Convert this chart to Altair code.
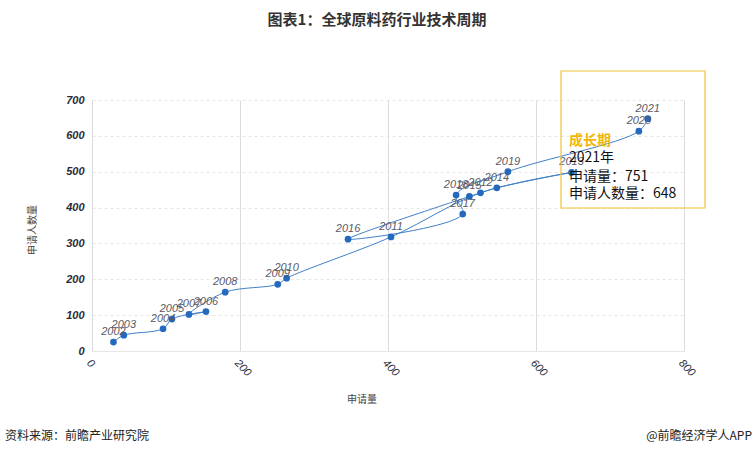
import altair as alt
import pandas as pd

years = [2002, 2003, 2004, 2005, 2006, 2007, 2008, 2009, 2010, 2011,
         2012, 2013, 2014, 2015, 2016, 2017, 2018, 2019, 2020, 2021]
applications = [29, 43, 96, 108, 154, 131, 180, 251, 263, 404,
                525, 648, 547, 510, 346, 501, 492, 562, 739, 751]
applicants = [25, 44, 62, 89, 110, 102, 164, 186, 203, 318,
              441, 498, 455, 431, 312, 382, 435, 500, 613, 648]

x_ticks = [0, 200, 400, 600, 800]
y_ticks = [0, 100, 200, 300, 400, 500, 600, 700]

title_text = "图表1：全球原料药行业技术周期"
x_title = "申请量"
y_title = "申请人数量"
source_text = "资料来源：前瞻产业研究院"
brand_text = "@前瞻经济学人APP"
tip_head = "成长期"
tip_lines = ["2021年", "申请量：751", "申请人数量：648"]

df = pd.DataFrame({"year": years, "apps": applications, "people": applicants})
df["label"] = df["year"].astype(str)

W, H = 592, 251
CJK = "Noto Sans CJK SC"
LAT = "Liberation Sans"

x_enc = alt.X("apps:Q", scale=alt.Scale(domain=[0, 800], nice=False),
              axis=alt.Axis(values=x_ticks, title=None, grid=True, gridColor="#dcdcdc",
                            labelAngle=45, labelFontStyle="italic", labelColor="#2b2b3a",
                            labelFont=LAT, labelFontSize=11, ticks=False, domain=True,
                            domainColor="#e6e6e6", labelPadding=6, labelOverlap=False,
                            labelFlush=False))
y_enc = alt.Y("people:Q", scale=alt.Scale(domain=[0, 700], nice=False),
              axis=alt.Axis(values=y_ticks, title=None, grid=True, gridColor="#e6e6e6",
                            gridDash=[3, 3], labelFontStyle="italic", labelColor="#2b2b3a",
                            labelFont=LAT, labelFontSize=11, labelFontWeight="bold",
                            ticks=False, domain=False,
                            labelPadding=8, labelOverlap=False, labelFlush=False))

base = alt.Chart(df).encode(x=x_enc, y=y_enc)
line = base.mark_line(interpolate="catmull-rom", color="#3f7fc6", strokeWidth=1).encode(order="year:O")
pts = base.mark_circle(size=45, color="#2369bd", opacity=1)
lbl = base.mark_text(dy=-10, font=LAT, fontStyle="italic", fontSize=11, color="#5a5a66").encode(
    text="label:N")

one = pd.DataFrame({"k": [0]})
ann = alt.Chart(one)
box = ann.mark_rect(fill="white", fillOpacity=0.0, stroke="#efc23a", strokeWidth=1.2).encode(
    x=alt.value(469), x2=alt.value(613), y=alt.value(-29), y2=alt.value(108))

tip_df = pd.DataFrame({"t": tip_lines, "yy": [62, 81, 98]})
tip_head_m = ann.mark_text(text=tip_head, font=CJK, fontSize=14, fontWeight="bold", color="#f2b705",
                           align="left", baseline="alphabetic").encode(x=alt.value(477), y=alt.value(45))
tip_body = alt.Chart(tip_df).mark_text(font=CJK, fontSize=14, color="#111", align="left",
                                        baseline="alphabetic").encode(
    x=alt.value(477), y=alt.Y("yy:Q", scale=None, axis=None), text="t:N")

title_m = ann.mark_text(text=title_text, font=CJK, fontSize=15, fontWeight="bold", color="#333",
                        align="center", baseline="alphabetic").encode(x=alt.value(285), y=alt.value(-75))
xt = ann.mark_text(text=x_title, font=CJK, fontSize=10, color="#444", align="center",
                   baseline="middle").encode(x=alt.value(270), y=alt.value(300))
yt = ann.mark_text(text=y_title, font=CJK, fontSize=10, color="#444", align="center",
                   baseline="middle", angle=270).encode(x=alt.value(-59), y=alt.value(130))
src = ann.mark_text(text=source_text, font=CJK, fontSize=12, color="#222", align="left",
                    baseline="alphabetic").encode(x=alt.value(-87), y=alt.value(340))
brand = ann.mark_text(text=brand_text, font=CJK, fontSize=12, color="#222", align="right",
                      baseline="alphabetic").encode(x=alt.value(660), y=alt.value(340))

chart = alt.layer(line, pts, lbl, box, tip_head_m, tip_body, title_m, xt, yt, src, brand).properties(
    width=W, height=H,
    autosize=alt.AutoSizeParams(type="none"),
    padding={"left": 92, "top": 100, "right": 71, "bottom": 104},
    background="white",
).configure_view(stroke=None)

chart.save("out.html", embed_options={"renderer": "svg", "actions": False})
